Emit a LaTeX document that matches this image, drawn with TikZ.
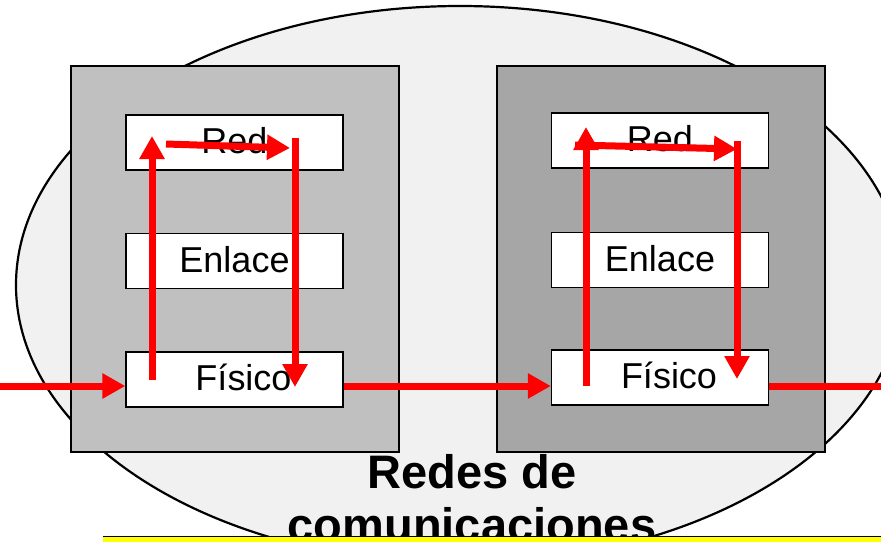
\documentclass[tikz,border=0pt]{standalone}
\usepackage{fontspec}
\setmainfont{Liberation Sans}
\usetikzlibrary{arrows.meta}
\definecolor{ellfill}{RGB}{241,241,241}
\definecolor{lgray}{RGB}{192,192,192}
\definecolor{dgray}{RGB}{166,166,166}
\definecolor{myred}{RGB}{255,0,0}
\definecolor{stripyellow}{RGB}{255,255,0}
\begin{document}
\begin{tikzpicture}[x=1pt,y=-1pt,
  layerbox/.style={draw=black, line width=1.3pt, fill=white, minimum width=217pt,
    minimum height=55pt, inner sep=0pt, font=\fontsize{36}{40}\selectfont,
    text height=26pt, text depth=4pt},
  hostbox/.style={draw=black, line width=2pt, minimum width=328pt,
    minimum height=386pt, inner sep=0pt},
  flow/.style={draw=myred, line width=7pt, -{Triangle[length=23pt,width=24pt]}},
  titletext/.style={font=\bfseries\fontsize{47}{52}\selectfont, anchor=base, inner sep=0pt},
]
\useasboundingbox (0,0) rectangle (881,541);
\clip (0,0) rectangle (881,541);
\fill[white] (0,0) rectangle (881,541);
% network cloud
\draw[fill=ellfill, line width=2.2pt] (460,285) ellipse [x radius=444pt, y radius=279pt];
% hosts
\node[hostbox, fill=lgray] (host1) at (235,259) {};
\node[hostbox, fill=dgray] (host2) at (661,259) {};
% layers
\node[layerbox] (red1) at (234.5,142.5) {Red};
\node[layerbox] (enl1) at (234.5,261) {Enlace};
\node[layerbox] (fis1) at (234.5,379.5) {\hspace*{18pt}Físico};
\node[layerbox] (red2) at (660,140.5) {Red};
\node[layerbox] (enl2) at (660,260) {Enlace};
\node[layerbox] (fis2) at (660,377.5) {\hspace*{18pt}Físico};
% title
\node[titletext] (title1) at (472,488) {Redes de};
\node[titletext] (title2) at (472,541) {comunicaciones};
% coordinates for flow
\coordinate (inp) at (0,386);
\coordinate (outp) at (890,386);
\coordinate (u1s) at (152,380);
\coordinate (u1e) at (152,136);
\coordinate (r1s) at (166,144);
\coordinate (r1e) at (290,148);
\coordinate (d1s) at (295,138);
\coordinate (d1e) at (295,387);
\coordinate (u2s) at (586,386);
\coordinate (u2e) at (586,127);
\coordinate (r2s) at (575,145);
\coordinate (r2e) at (737,149);
\coordinate (d2s) at (737,141);
\coordinate (d2e) at (737,379);
% flows
\draw[flow] (inp) -- (fis1.west |- inp);
\draw[flow] (u1s) -- (u1e);
\draw[flow] (r1s) -- (r1e);
\draw[flow] (d1s) -- (d1e);
\draw[flow] (fis1.east |- inp) -- (fis2.west |- inp);
\draw[flow] (u2s) -- (u2e);
\draw[flow] (r2s) -- (r2e);
\draw[flow] (d2s) -- (d2e);
\draw[draw=myred, line width=7pt] (fis2.east |- outp) -- (outp);
% bottom strip
\fill[stripyellow] (103,537) rectangle (881,542);
\draw[line width=1.6pt] (103,536.5) -- (881,536.5);
\end{tikzpicture}
\end{document}
